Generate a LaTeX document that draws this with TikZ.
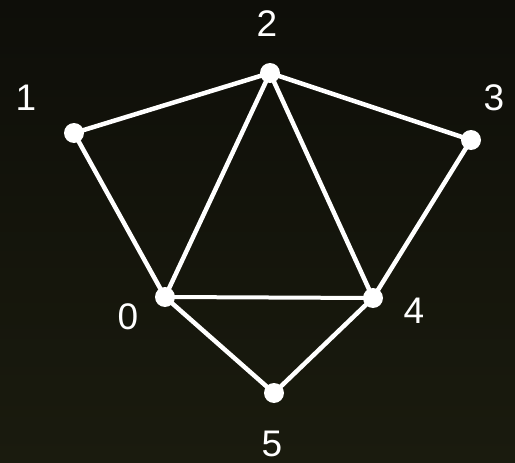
\documentclass[tikz,border=0pt]{standalone}
\usepackage{fontspec}
\setmainfont{Liberation Sans}
\definecolor{bgtop}{RGB}{14,14,9}
\definecolor{bgbot}{RGB}{26,27,14}
\begin{document}
\begin{tikzpicture}[x=1pt,y=-1pt,
  vtx/.style={circle,fill=white,inner sep=0pt,minimum size=20pt},
  lbl/.style={text=white,font=\fontsize{37}{37}\selectfont,inner sep=0pt},
  edge/.style={white,line width=4.5pt}]
\shade[top color=bgtop,bottom color=bgbot] (0,0) rectangle (515,463);
\useasboundingbox (0,0) rectangle (515,463);
\node[vtx] (v0) at (165,297) {};
\node[vtx] (v1) at (74,133) {};
\node[vtx] (v2) at (270,73) {};
\node[vtx] (v3) at (471,140) {};
\node[vtx] (v4) at (373,298) {};
\node[vtx] (v5) at (274,393) {};
\node[lbl] (l0) at (128,317) {0};
\node[lbl] (l1) at (26,98) {1};
\node[lbl] (l2) at (267,24) {2};
\node[lbl] (l3) at (494,98) {3};
\node[lbl] (l4) at (414,311) {4};
\node[lbl] (l5) at (272,444) {5};
\draw[edge] (v1.center) -- (v2.center);
\draw[edge] (v2.center) -- (v3.center);
\draw[edge] (v1.center) -- (v0.center);
\draw[edge] (v2.center) -- (v0.center);
\draw[edge] (v2.center) -- (v4.center);
\draw[edge] (v3.center) -- (v4.center);
\draw[edge,line width=4pt] (v0.center) -- (v4.center);
\draw[edge] (v0.center) -- (v5.center);
\draw[edge] (v4.center) -- (v5.center);
\end{tikzpicture}
\end{document}
